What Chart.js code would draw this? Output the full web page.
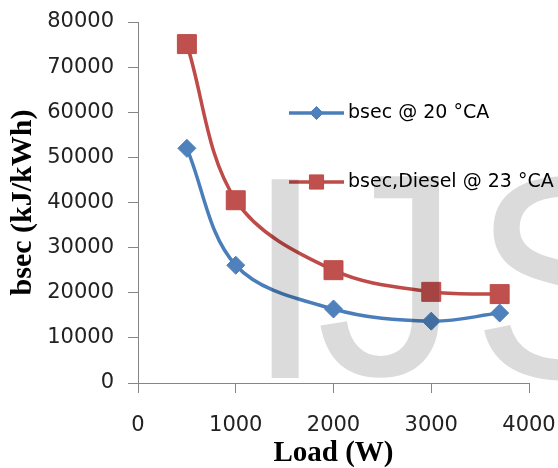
<!DOCTYPE html>
<html>
<head>
<meta charset="utf-8">
<script src="https://cdn.jsdelivr.net/npm/chart.js@4.4.0/dist/chart.umd.min.js"></script>
<style>
  html, body { margin: 0; padding: 0; background: #fff; }
</style>
</head>
<body>
<canvas id="canvas" width="558" height="468"></canvas>
<script>
// values
var loads = [500, 1000, 2000, 3000, 3700];
var bsec20 = [52000, 26100, 16400, 13700, 15500];
var bsecDiesel = [75100, 40500, 25000, 20200, 19700];
var seriesLabels = ['bsec @ 20 °CA', 'bsec,Diesel @ 23 °CA'];

function points(xs, ys) {
    var out = [];
    for (var i = 0; i < xs.length; i++) {
        out.push({x: xs[i], y: ys[i]});
    }
    return out;
}

var axisGray = '#868686';
var tickFont = {family: 'DejaVu Sans', size: 21};
var titleFont = {family: 'Liberation Serif', size: 29, weight: 'bold', lineHeight: 1};

// legend drawn inside the plot like the original
var insideLegend = {
    id: 'insideLegend',
    afterDatasetsDraw: function (chart, args, opts) {
        var ctx = chart.ctx;
        var sets = chart.data.datasets;
        ctx.save();
        for (var i = 0; i < sets.length; i++) {
            var ds = sets[i];
            var y = opts.rows[i];
            ctx.strokeStyle = ds.borderColor;
            ctx.lineWidth = ds.borderWidth;
            ctx.beginPath();
            ctx.moveTo(opts.x1, y);
            ctx.lineTo(opts.x2, y);
            ctx.stroke();
            ctx.fillStyle = ds.pointBackgroundColor;
            ctx.strokeStyle = ds.pointBorderColor;
            ctx.lineWidth = 1;
            Chart.helpers.drawPoint(ctx, {
                pointStyle: ds.pointStyle,
                radius: ds.legendRadius,
                borderWidth: 1,
                rotation: 0
            }, (opts.x1 + opts.x2) / 2, y);
            ctx.fillStyle = '#000';
            ctx.font = '19px "DejaVu Sans"';
            ctx.textBaseline = 'middle';
            ctx.fillText(ds.label, opts.textX, y);
        }
        ctx.restore();
    }
};

// translucent watermark laid over the chart
var watermark = {
    id: 'watermark',
    afterDraw: function (chart) {
        var ctx = chart.ctx;
        ctx.save();
        ctx.fillStyle = 'rgba(0,0,0,0.14)';
        ctx.font = '289px "Liberation Sans"';
        ctx.textBaseline = 'alphabetic';
        ctx.fillText('I', 245, 378);
        ctx.fillText('J', 316, 375);
        ctx.fillText('S', 471, 378);
        ctx.restore();
    }
};

var ctx = document.getElementById('canvas').getContext('2d');
var myChart = new Chart(ctx, {
    type: 'line',
    data: {
        datasets: [
            {
                label: seriesLabels[0],
                data: points(loads, bsec20),
                borderColor: '#4A7EBB',
                borderWidth: 3.5,
                pointStyle: 'rectRot',
                pointRadius: 9,
                legendRadius: 6.5,
                pointBackgroundColor: '#4F81BD',
                pointBorderColor: '#4A7EBB',
                pointBorderWidth: 1,
                tension: 0.35
            },
            {
                label: seriesLabels[1],
                data: points(loads, bsecDiesel),
                borderColor: '#BE4B48',
                borderWidth: 3.5,
                pointStyle: 'rect',
                pointRadius: 13.4,
                legendRadius: 10,
                pointBackgroundColor: '#C0504D',
                pointBorderColor: '#BE4B48',
                pointBorderWidth: 1,
                tension: 0.35
            }
        ]
    },
    options: {
        responsive: false,
        animation: false,
        layout: {padding: {left: 0, top: 22, right: 29, bottom: 0}},
        plugins: {
            legend: {display: false},
            tooltip: {enabled: false},
            insideLegend: {x1: 289, x2: 344, textX: 348, rows: [113, 182]}
        },
        scales: {
            x: {
                type: 'linear',
                min: 0,
                max: 4000,
                ticks: {
                    stepSize: 1000,
                    font: tickFont,
                    color: '#222',
                    padding: 20,
                    maxRotation: 0,
                    callback: function (v) { return String(v); }
                },
                grid: {drawOnChartArea: false, drawTicks: true, tickLength: 10, color: axisGray},
                border: {color: axisGray},
                title: {display: true, text: 'Load (W)', font: titleFont, color: '#000', padding: {top: 0, bottom: 0}},
                afterFit: function (s) {
                    s.height = 85;
                    s.paddingLeft = 0;
                    s.paddingRight = 0;
                }
            },
            y: {
                min: 0,
                max: 80000,
                ticks: {
                    stepSize: 10000,
                    font: tickFont,
                    color: '#222',
                    padding: 14,
                    callback: function (v) { return String(v); }
                },
                grid: {drawOnChartArea: false, drawTicks: true, tickLength: 10, color: axisGray},
                border: {color: axisGray},
                title: {
                    display: true,
                    text: 'bsec (kJ/kWh)',
                    font: {family: 'Liberation Serif', size: 30, weight: 'bold', lineHeight: 1},
                    color: '#000',
                    padding: {top: 8, bottom: 0}
                },
                afterFit: function (s) {
                    s.width = 138;
                    s.paddingTop = 0;
                    s.paddingBottom = 0;
                }
            }
        }
    },
    plugins: [insideLegend, watermark]
});
</script>
</body>
</html>
